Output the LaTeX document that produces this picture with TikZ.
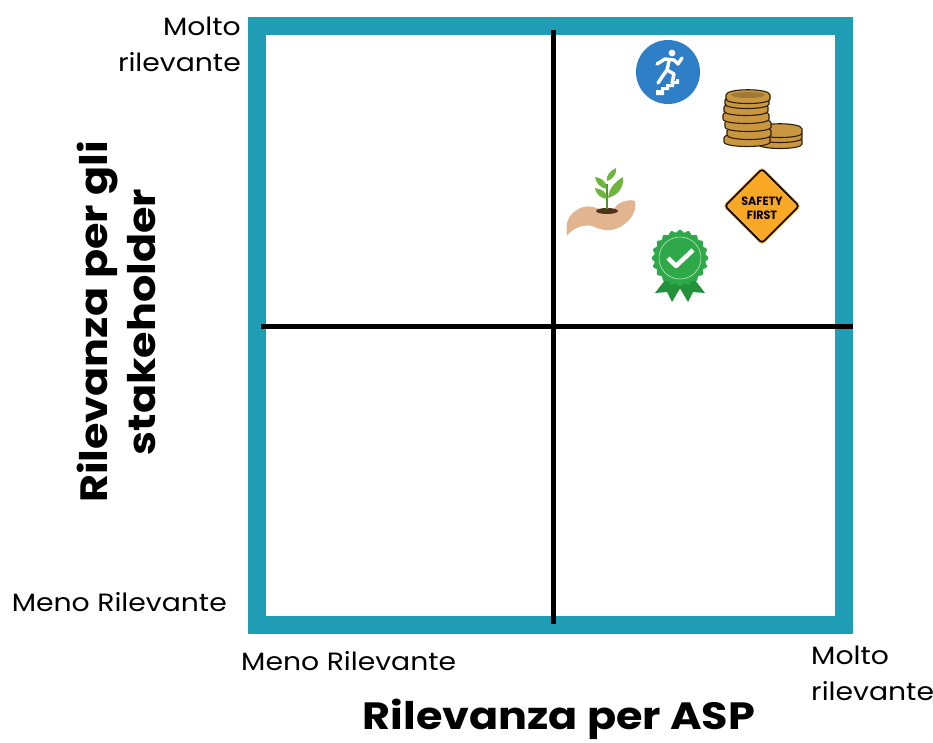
\documentclass[tikz,border=0pt]{standalone}
\usepackage{fontspec}
\setmainfont{Poppins}
\definecolor{framecol}{HTML}{1F9DB5}
\definecolor{runcol}{HTML}{2E7EC8}
\definecolor{coincol}{HTML}{C9973F}
\definecolor{coindark}{HTML}{2E1E08}
\definecolor{signcol}{HTML}{F9A825}
\definecolor{skincol}{HTML}{E2B48F}
\definecolor{leafcol}{HTML}{6FB43F}
\definecolor{badgecol}{HTML}{2FA84A}
\definecolor{ribboncol}{HTML}{23913C}
\newcommand{\widetitle}[1]{\scalebox{1.13}[1]{#1}}
\tikzset{
  axisline/.style={line width=5pt, black},
  scaletext/.style={font=\fontsize{25}{36}\selectfont, inner sep=0pt, xscale=1.13},
  titletext/.style={font=\fontsize{38}{53}\selectfont\bfseries, inner sep=0pt},
  coin/.style={fill=coincol, draw=coindark, line width=1.1pt},
  leaf/.style={fill=leafcol, draw=none},
  runner/.style={draw=white, line width=3.4pt, line cap=round, line join=round},
}
\begin{document}
\begin{tikzpicture}[x=1pt,y=-1pt]
\useasboundingbox (0,0) rectangle (933,742);
% frame
\draw[framecol, line width=18pt] (257,26) rectangle (844,625);
% axes
\coordinate (top) at (553,30);
\coordinate (bottom) at (553,624);
\coordinate (left) at (261,326);
\coordinate (right) at (853,326);
\draw[axisline] (top) -- (bottom);
\draw[axisline] (left) -- (right);
% labels
\node[scaletext, align=right, anchor=east] (ymax) at (241,44) {Molto\\rilevante};
\node[scaletext, anchor=east] (ymin) at (227,602) {Meno Rilevante};
\node[scaletext, anchor=west] (xmin) at (241,661) {Meno Rilevante};
\node[scaletext, align=left, anchor=west] (xmax) at (811,673) {Molto\\rilevante};
\node[titletext, align=center, rotate=90] (ytitle) at (116.5,322) {\widetitle{Rilevanza per gli}\\[-5pt]\widetitle{stakeholder}};
\node[titletext, anchor=base] (xtitle) at (559,729) {\widetitle{Rilevanza per ASP}};
% runner
\fill[runcol] (668,72) circle (32);
\fill[white] (672,53) circle (3.4);
\draw[runner] (657,64) -- (665,59) -- (674,60) -- (678,64) -- (682,58);
\draw[runner] (669,61) -- (667,70) -- (674,74) -- (672,83);
\draw[runner] (667,70) -- (662,77) -- (658,83);
\fill[white] (656,95) -- (656,90) -- (661,90) -- (661,87) -- (666,87) -- (666,84) -- (671,84) -- (671,81) -- (676,81) -- (676,79) -- (679,79) -- (679,84) -- (674,84) -- (674,87) -- (669,87) -- (669,90) -- (664,90) -- (664,95) -- cycle;
% coins
\foreach \cx/\cy/\rx in {780/140/22,780/134/22,780/129/22}
  \draw[coin] (\cx-\rx,\cy) -- (\cx-\rx,\cy+4) .. controls (\cx-\rx,\cy+10) and (\cx+\rx,\cy+10) .. (\cx+\rx,\cy+4) -- (\cx+\rx,\cy) .. controls (\cx+\rx,\cy-7) and (\cx-\rx,\cy-7) .. (\cx-\rx,\cy) -- cycle;
\foreach \cx/\cy/\rx in {747/138/23,749/131/22,748/123/23,746/115/23,746/107/22,747/100/22,748/95/22}
  \draw[coin] (\cx-\rx,\cy) -- (\cx-\rx,\cy+4) .. controls (\cx-\rx,\cy+10) and (\cx+\rx,\cy+10) .. (\cx+\rx,\cy+4) -- (\cx+\rx,\cy) .. controls (\cx+\rx,\cy-7) and (\cx-\rx,\cy-7) .. (\cx-\rx,\cy) -- cycle;
\fill[coincol!80!black] (748,95) ellipse (17 and 3);
% safety sign
\draw[fill=signcol, draw=white, line width=1pt, rounded corners=4pt] (762,166) -- (802,206) -- (762,246) -- (722,206) -- cycle;
\draw[black, line width=1.6pt, rounded corners=3pt] (762,169) -- (799,206) -- (762,243) -- (725,206) -- cycle;
\node[font=\fontsize{12}{14}\selectfont\bfseries, align=center, inner sep=0pt, xscale=.93] (safety) at (762,208) {SAFETY\\FIRST};
% hand and plant
\fill[skincol] (567,236) .. controls (565,222) and (568,213) .. (583,207) .. controls (590,205) and (596,208) .. (603,210) .. controls (610,212) and (614,210) .. (618,204) .. controls (624,201) and (630,199) .. (635,201) .. controls (637,211) and (631,220) .. (622,226) .. controls (612,232) and (603,231) .. (592,226) .. controls (584,224) and (572,228) .. (567,236) -- cycle;
\fill[black!60!brown] (607,211) ellipse (11 and 3);
\draw[leafcol!80!black, line width=1.4pt] (607,209) -- (607,184);
\fill[leaf] (607,189) .. controls (600,188) and (596,183) .. (595,177) .. controls (602,178) and (607,182) .. (607,189) -- cycle;
\fill[leaf] (607,199) .. controls (600,198) and (596,194) .. (595,188) .. controls (602,189) and (607,192) .. (607,199) -- cycle;
\fill[leaf] (608,198) .. controls (609,188) and (615,182) .. (623,177) .. controls (624,188) and (618,195) .. (608,198) -- cycle;
\fill[leaf] (607,181) .. controls (606,175) and (610,171) .. (616,168) .. controls (617,174) and (613,179) .. (607,181) -- cycle;
% badge
\fill[ribboncol] (665,280) -- (655,293) -- (667,292) -- (672,302) -- (682,285) -- cycle;
\fill[ribboncol] (695,280) -- (705,293) -- (693,292) -- (688,302) -- (678,285) -- cycle;
\fill[badgecol] plot[domain=0:360, samples=145, shift={(680,258)}] (\x:{27+1.3*cos(20*\x)}) -- cycle;
\draw[white!70!badgecol, line width=0.6pt] (680,258) circle (21);
\draw[white, line width=4.5pt, line join=round] (668,258) -- (676,266) -- (693,250);
\end{tikzpicture}
\end{document}
